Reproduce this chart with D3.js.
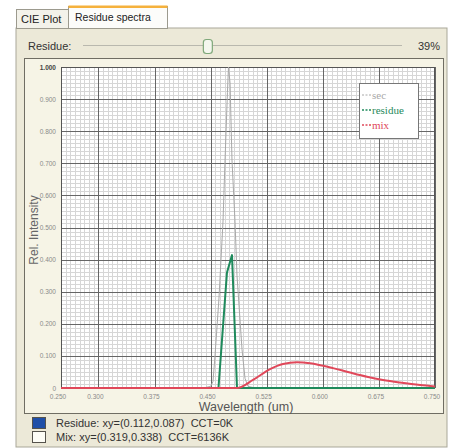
<!DOCTYPE html>
<html>
<head>
<meta charset="utf-8">
<script src="https://cdn.jsdelivr.net/npm/d3@7"></script>
<style>
  html, body { margin: 0; padding: 0; background: #fff; }
  svg { display: block; }
  .pre { white-space: pre; }
</style>
</head>
<body>
<script>
// Données (longueur d'onde en µm, intensité relative)
const secWave = [0.250, 0.440, 0.450, 0.4532, 0.4559, 0.4612, 0.4666, 0.4693, 0.4725, 0.4739, 0.4760, 0.4786, 0.4826, 0.4853, 0.4920, 0.4960, 0.500, 0.510, 0.750];
const secVal  = [0,     0,     0.005, 0.02,   0.10,   0.28,   0.52,   0.71,   0.92,   1.0,    0.95,   0.71,   0.52,   0.35,   0.12,   0.03,   0.005, 0,     0];

const residueWave = [0.250, 0.4605, 0.4719, 0.4786, 0.4853, 0.750];
const residueVal  = [0,     0,      0.36,   0.414,  0,      0];

const mixWave = [0.250, 0.4853, 0.5067, 0.5294, 0.5468, 0.5655, 0.5829, 0.599, 0.6136, 0.6364, 0.659, 0.6805, 0.703, 0.730, 0.750];
const mixVal  = [0,     0,      0.025,  0.059,  0.075,  0.080,  0.077,  0.070, 0.062,  0.048,  0.035, 0.025,  0.017, 0.009, 0.005];

const xTicks = [0.250, 0.300, 0.375, 0.450, 0.525, 0.600, 0.675, 0.750];
const yTicks = [0, 0.1, 0.2, 0.3, 0.4, 0.5, 0.6, 0.7, 0.8, 0.9, 1.0];
const legendNames = ["sec", "residue", "mix"];
const legendColors = ["#a8a8a8", "#1f8a5c", "#e0485a"];
const infoLines = ["Residue: xy=(0.112,0.087)  CCT=0K", "Mix: xy=(0.319,0.338)  CCT=6136K"];
const infoSwatches = ["#1f4fa8", "#fdfdf6"];
const residuePercent = 39;

const width = 449, height = 448;
const uiFont = "'Liberation Sans', 'DejaVu Sans', sans-serif";

const svg = d3.select("body").append("svg")
    .attr("width", width)
    .attr("height", height);

// Fond de la page et onglets
svg.append("rect").attr("width", width).attr("height", height).attr("fill", "#fff");
svg.append("rect").attr("x", 16).attr("y", 28).attr("width", 431).attr("height", 419)
    .attr("fill", "#ece9d8").attr("stroke", "#a9a799");

// onglet inactif
svg.append("rect").attr("x", 16.5).attr("y", 9.5).attr("width", 52).attr("height", 19)
    .attr("fill", "#f3f2ea").attr("stroke", "#9c9a8e");
svg.append("text").attr("x", 21).attr("y", 23).text("CIE Plot")
    .attr("font-family", uiFont).attr("font-size", 11).attr("fill", "#222");
// onglet actif
svg.append("rect").attr("x", 68.5).attr("y", 6.5).attr("width", 99).attr("height", 22)
    .attr("fill", "#fcfcfa").attr("stroke", "#9c9a8e");
svg.append("rect").attr("x", 68.5).attr("y", 5.5).attr("width", 99).attr("height", 2.5).attr("fill", "#f5b13c");
svg.append("text").attr("x", 75).attr("y", 21).text("Residue spectra")
    .attr("font-family", uiFont).attr("font-size", 10.5).attr("fill", "#222");

// Curseur "Residue"
svg.append("text").attr("x", 28).attr("y", 50).text("Residue:")
    .attr("font-family", uiFont).attr("font-size", 11).attr("fill", "#333");
const slider = d3.scaleLinear().domain([0, 100]).range([85, 400]);
svg.append("line").attr("x1", 83).attr("x2", 402).attr("y1", 45.5).attr("y2", 45.5)
    .attr("stroke", "#b9b8ae");
svg.append("rect").attr("x", slider(residuePercent) - 4.5).attr("y", 39.5).attr("width", 9).attr("height", 14).attr("rx", 3)
    .attr("fill", "#f4f7ee").attr("stroke", "#7fa87a").attr("stroke-width", 1.2);
svg.append("text").attr("x", 440).attr("y", 50).attr("text-anchor", "end").text(residuePercent + "%")
    .attr("font-family", uiFont).attr("font-size", 11).attr("fill", "#333");

// Cadre du graphique
svg.append("rect").attr("x", 24.5).attr("y", 58.5).attr("width", 419).attr("height", 355)
    .attr("fill", "#f6f4e6").attr("stroke", "#6f6d63");

const margin = { left: 61, right: 435, top: 67, bottom: 388 };
const x = d3.scaleLinear().domain([0.25, 0.75]).range([margin.left, margin.right]);
const y = d3.scaleLinear().domain([0, 1]).range([margin.bottom, margin.top]);

const plot = svg.append("g");
plot.append("rect").attr("x", margin.left).attr("y", margin.top)
    .attr("width", margin.right - margin.left).attr("height", margin.bottom - margin.top)
    .attr("fill", "#fff");

// Grille secondaire
const minorX = d3.range(0, 81).map(i => 0.25 + i * 0.00625);
const minorY = d3.range(0, 81).map(i => i * 0.0125);
plot.append("g").selectAll("line").data(minorX).enter().append("line")
    .attr("x1", d => Math.round(x(d)) + 0.5).attr("x2", d => Math.round(x(d)) + 0.5)
    .attr("y1", margin.top).attr("y2", margin.bottom)
    .attr("stroke", "#d6d6d6");
plot.append("g").selectAll("line").data(minorY).enter().append("line")
    .attr("y1", d => Math.round(y(d)) + 0.5).attr("y2", d => Math.round(y(d)) + 0.5)
    .attr("x1", margin.left).attr("x2", margin.right)
    .attr("stroke", "#d6d6d6");

// Grille principale
plot.append("g").selectAll("line").data(xTicks).enter().append("line")
    .attr("x1", d => Math.round(x(d)) + 0.5).attr("x2", d => Math.round(x(d)) + 0.5)
    .attr("y1", margin.top).attr("y2", margin.bottom)
    .attr("stroke", "#666");
plot.append("g").selectAll("line").data(yTicks).enter().append("line")
    .attr("y1", d => Math.round(y(d)) + 0.5).attr("y2", d => Math.round(y(d)) + 0.5)
    .attr("x1", margin.left).attr("x2", margin.right)
    .attr("stroke", "#666");
plot.append("rect").attr("x", margin.left + 0.5).attr("y", margin.top + 0.5)
    .attr("width", margin.right - margin.left - 1).attr("height", margin.bottom - margin.top - 1)
    .attr("fill", "none").attr("stroke", "#555");

// Étiquettes des axes
svg.append("g").selectAll("text").data(yTicks).enter().append("text")
    .attr("x", 56).attr("y", d => y(d) + 2.5)
    .attr("text-anchor", "end")
    .text(d => d === 0 ? "0" : d3.format(".3f")(d))
    .attr("font-family", uiFont).attr("font-size", 6.5)
    .attr("font-weight", d => d === 1 ? "bold" : "normal")
    .attr("fill", d => d === 1 ? "#444" : "#8a8a8a");
svg.append("g").selectAll("text").data(xTicks).enter().append("text")
    .attr("x", d => x(d) - 3).attr("y", 399)
    .attr("text-anchor", "middle")
    .text(d => d3.format(".3f")(d))
    .attr("font-family", uiFont).attr("font-size", 6.5)
    .attr("fill", "#8a8a8a");

svg.append("text").attr("x", 246).attr("y", 411).attr("text-anchor", "middle")
    .text("Wavelength (um)")
    .attr("font-family", uiFont).attr("font-size", 12.5).attr("fill", "#555");
svg.append("text").attr("transform", "translate(38,230) rotate(-90)").attr("text-anchor", "middle")
    .text("Rel. Intensity")
    .attr("font-family", uiFont).attr("font-size", 12).attr("fill", "#666");

// Courbes
const line = d3.line().x(d => x(d[0])).y(d => y(d[1]));
const series = [
    { pts: d3.zip(secWave, secVal), color: legendColors[0], w: 1 },
    { pts: d3.zip(residueWave, residueVal), color: legendColors[1], w: 2 },
    { pts: d3.zip(mixWave, mixVal), color: legendColors[2], w: 2 }
];
const curves = svg.append("g");
series.forEach((s, i) => {
    curves.append("path")
        .attr("d", (i === 2 ? line.curve(d3.curveMonotoneX) : line.curve(d3.curveLinear))(s.pts))
        .attr("fill", "none")
        .attr("stroke", s.color)
        .attr("stroke-width", s.w)
        .attr("stroke-linejoin", "round");
});

// Légende
const legend = svg.append("g").attr("transform", "translate(359,83)");
legend.append("rect").attr("x", 0.5).attr("y", 0.5).attr("width", 59).attr("height", 55)
    .attr("fill", "#fff").attr("stroke", "#777");
legendNames.forEach((name, i) => {
    const ly = 12 + i * 15;
    legend.append("line").attr("x1", 3).attr("x2", 12).attr("y1", ly).attr("y2", ly)
        .attr("stroke", legendColors[i]).attr("stroke-width", i === 0 ? 1 : 1.5)
        .attr("stroke-dasharray", "2,1.5");
    legend.append("text").attr("x", 13).attr("y", ly + 3.5).text(name)
        .attr("font-family", "'Liberation Serif', 'DejaVu Serif', serif")
        .attr("font-size", 11)
        .attr("fill", legendColors[i]);
});

// Infos couleur en bas
infoLines.forEach((t, i) => {
    const ty = 417 + i * 14;
    svg.append("rect").attr("x", 32.5).attr("y", ty + 0.5).attr("width", 13).attr("height", 11)
        .attr("fill", infoSwatches[i]).attr("stroke", "#55534c");
    svg.append("text").attr("class", "pre").attr("x", 56).attr("y", ty + 10).text(t)
        .attr("font-family", uiFont).attr("font-size", 11).attr("fill", "#333");
});
</script>
</body>
</html>
